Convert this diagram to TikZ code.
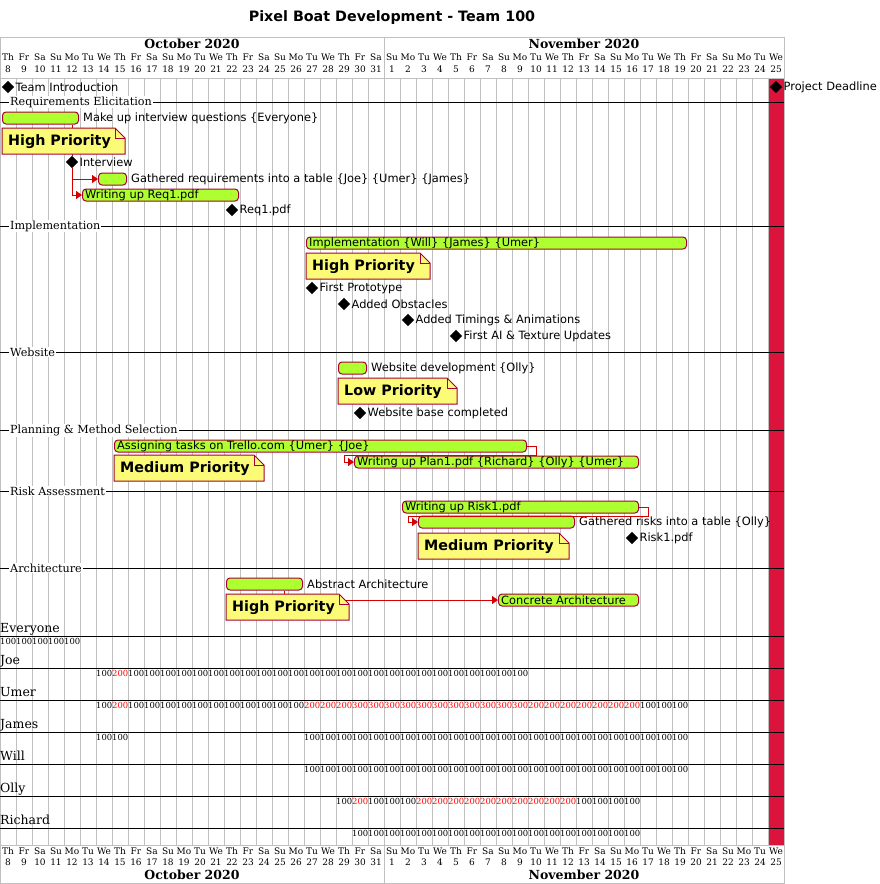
\documentclass[tikz,border=0pt]{standalone}
\usepackage{fontspec}
\setmainfont{DejaVu Serif}
\setsansfont{DejaVu Sans}
\usetikzlibrary{shapes.geometric,arrows.meta}
\definecolor{barfill}{HTML}{ADFF2F}
\definecolor{barline}{HTML}{A80036}
\definecolor{notefill}{HTML}{FBFB77}
\definecolor{crim}{HTML}{DC143C}
\definecolor{gridc}{HTML}{C0C0C0}
\definecolor{arr}{HTML}{D40000}
\newcommand\pnote[5]{%
  \path[draw=barline,fill=notefill,line width=1pt] (#2,#3+26) -- (#2,#3) -- (#2+#4-10,#3) -- (#2+#4,#3+10) -- (#2+#4,#3+26) -- cycle;
  \draw[barline,line width=0.8pt] (#2+#4-10,#3) -- (#2+#4-10,#3+10) -- (#2+#4,#3+10);
  \node[notetext] (#1) at (#2+6,#3+14) {#5};}
\newcommand\usg[5]{\foreach \d in {#2,...,#3} \node[usage,text=#5] at (\d*16,#1) {#4};}
\begin{document}
\begin{tikzpicture}[x=1pt,y=-1pt,
  taskbar/.style={draw=barline,line width=1pt,fill=barfill,rounded corners=3.5pt,minimum height=12pt,inner sep=0pt,anchor=west},
  tlabel/.style={font=\sffamily\fontsize{11.4}{12}\selectfont,inner sep=0pt},
  inlabel/.style={tlabel,anchor=west,xshift=3pt},
  outlabel/.style={tlabel,anchor=west,xshift=4pt},
  mlabel/.style={tlabel,anchor=west,xshift=1pt},
  milestone/.style={diamond,fill=black,minimum size=12.5pt,inner sep=0pt},
  notetext/.style={anchor=west,font=\sffamily\bfseries\fontsize{14.3}{15}\selectfont,inner sep=0pt},
  seclabel/.style={anchor=west,fill=white,inner sep=1pt,font=\fontsize{11.2}{12}\selectfont},
  resname/.style={anchor=base west,inner sep=0pt,font=\fontsize{12.5}{13}\selectfont},
  usage/.style={anchor=west,inner sep=0pt,font=\fontsize{8.4}{8}\selectfont},
  dayname/.style={font=\fontsize{9}{9}\selectfont,inner sep=0pt},
  month/.style={font=\bfseries\fontsize{12.5}{13}\selectfont,inner sep=0pt},
  dep/.style={draw=arr,line width=1pt},
  deparr/.style={dep,-{Triangle[length=6pt,width=8pt]}},
  sep/.style={draw=black,line width=0.9pt}]
\useasboundingbox (0,0) rectangle (879,884);
\node[font=\sffamily\bfseries\fontsize{14.3}{15}\selectfont] (title) at (392,18) {Pixel Boat Development - Team 100};
% red deadline column
\fill[crim] (768,78) rectangle (784,845);
% grid
\foreach \i in {0,...,49} \draw[gridc,line width=0.6pt] (\i*16,78) -- (\i*16,845);
\draw[gridc,line width=0.8pt] (0,37) rectangle (784,883);
\draw[gridc,line width=0.8pt] (0,78) -- (784,78) (0,845) -- (784,845) (384,37) -- (384,78) (384,845) -- (384,883);
% headers
\node[month] (octT) at (192,44) {October 2020};
\node[month] (novT) at (584,44) {November 2020};
\node[month] (octB) at (192,875) {October 2020};
\node[month] (novB) at (584,875) {November 2020};
\foreach \i in {0,...,48}{
  \pgfmathtruncatemacro\dn{\i<24 ? \i+8 : \i-23}
  \pgfmathsetmacro\nm{{"Mo","Tu","We","Th","Fr","Sa","Su"}[mod(\i+3,7)]}
  \node[dayname] at (\i*16+8,57) {\nm};
  \node[dayname] at (\i*16+8,69) {\dn};
  \node[dayname] at (\i*16+8,851) {\nm};
  \node[dayname] at (\i*16+8,862) {\dn};
}
% section separators
\foreach \y/\t in {102/Requirements Elicitation,226/Implementation,352/Website,430/Planning \& Method Selection,491/Risk Assessment,568/Architecture}{
  \draw[sep] (0,\y) -- (784,\y);
  \node[seclabel] at (9,\y) {\t};
}
% resource rows
\foreach \y/\n in {636/Everyone,668/Joe,700/Umer,732/James,764/Will,796/Olly,828/Richard}{
  \draw[sep] (0,\y) -- (784,\y);
  \node[resname] at (0,\y-4) {\n};
}
\usg{641}{0}{4}{100}{black}
\usg{673}{6}{6}{100}{black}\usg{673}{7}{7}{200}{red}\usg{673}{8}{32}{100}{black}
\usg{705}{6}{6}{100}{black}\usg{705}{7}{7}{200}{red}\usg{705}{8}{18}{100}{black}\usg{705}{19}{21}{200}{red}\usg{705}{22}{32}{300}{red}\usg{705}{33}{39}{200}{red}\usg{705}{40}{42}{100}{black}
\usg{737}{6}{7}{100}{black}\usg{737}{19}{42}{100}{black}
\usg{769}{19}{42}{100}{black}
\usg{801}{21}{21}{100}{black}\usg{801}{22}{22}{200}{red}\usg{801}{23}{25}{100}{black}\usg{801}{26}{35}{200}{red}\usg{801}{36}{39}{100}{black}
\usg{833}{22}{39}{100}{black}
% bars
\node[taskbar,minimum width=76pt] (quest) at (2,118) {};
\node[outlabel] at (quest.east) {Make up interview questions \{Everyone\}};
\node[milestone] (intv) at (72,162) {};
\node[mlabel] at (intv.east) {Interview};
\node[taskbar,minimum width=28pt] (gath) at (98,179) {};
\node[outlabel] at (gath.east) {Gathered requirements into a table \{Joe\} \{Umer\} \{James\}};
\node[taskbar,minimum width=156pt] (req) at (82,195) {};
\node[inlabel] at (req.west) {Writing up Req1.pdf};
\node[taskbar,minimum width=380pt] (impl) at (306,243) {};
\node[inlabel] at (impl.west) {Implementation \{Will\} \{James\} \{Umer\}};
\node[taskbar,minimum width=28pt] (web) at (338,368) {};
\node[outlabel] at (web.east) {Website development \{Olly\}};
\node[taskbar,minimum width=412pt] (assign) at (114,446) {};
\node[inlabel] at (assign.west) {Assigning tasks on Trello.com \{Umer\} \{Joe\}};
\node[taskbar,minimum width=284pt] (plan) at (354,462) {};
\node[inlabel] at (plan.west) {Writing up Plan1.pdf \{Richard\} \{Olly\} \{Umer\}};
\node[taskbar,minimum width=236pt] (risk) at (402,507) {};
\node[inlabel] at (risk.west) {Writing up Risk1.pdf};
\node[taskbar,minimum width=156pt] (grisk) at (418,522) {};
\node[outlabel] at (grisk.east) {Gathered risks into a table \{Olly\}};
\node[taskbar,minimum width=76pt] (abs) at (226,584) {};
\node[outlabel] at (abs.east) {Abstract Architecture};
\node[taskbar,minimum width=140pt] (conc) at (498,600) {};
\node[inlabel] at (conc.west) {Concrete Architecture};
% connectors
\draw[dep] (intv.north |- quest.south) -- (intv.north);
\draw[deparr] (intv.south) |- (gath.west);
\draw[deparr] (intv.south) |- (req.west);
\draw[dep] (assign.east) -- ++(9,0) -- ++(0,9) -| ([xshift=-10pt]plan.west);
\draw[deparr] ([xshift=-10pt]plan.west) -- (plan.west);
\draw[dep] (risk.east) -- ++(9,0) -- ++(0,9) -| ([xshift=-10pt]grisk.west);
\draw[deparr] ([xshift=-10pt]grisk.west) -- (grisk.west);
\draw[deparr] ([xshift=-19pt]abs.south east) |- (conc.west);
% notes
\pnote{n1}{2}{128}{123}{High Priority}
\pnote{n2}{306}{253}{124}{High Priority}
\pnote{n3}{338}{378}{119}{Low Priority}
\pnote{n4}{114}{455}{150}{Medium Priority}
\pnote{n5}{418}{533}{151}{Medium Priority}
\pnote{n6}{226}{594}{123}{High Priority}
% milestones
\node[milestone] (team) at (8,87) {};
\node[mlabel] at (team.east) {Team Introduction};
\node[milestone] (dead) at (776,87) {};
\node[mlabel] at (dead.east) {Project Deadline};
\node[milestone] (req1) at (232,210) {};
\node[mlabel] at (req1.east) {Req1.pdf};
\node[milestone] (proto) at (312,288) {};
\node[mlabel] at (proto.east) {First Prototype};
\node[milestone] (obst) at (344,304) {};
\node[mlabel] at (obst.east) {Added Obstacles};
\node[milestone] (timing) at (408,320) {};
\node[mlabel] at (timing.east) {Added Timings \& Animations};
\node[milestone] (ai) at (456,336) {};
\node[mlabel] at (ai.east) {First AI \& Texture Updates};
\node[milestone] (wbase) at (360,413) {};
\node[mlabel] at (wbase.east) {Website base completed};
\node[milestone] (risk1) at (632,538) {};
\node[mlabel] at (risk1.east) {Risk1.pdf};
\end{tikzpicture}
\end{document}
